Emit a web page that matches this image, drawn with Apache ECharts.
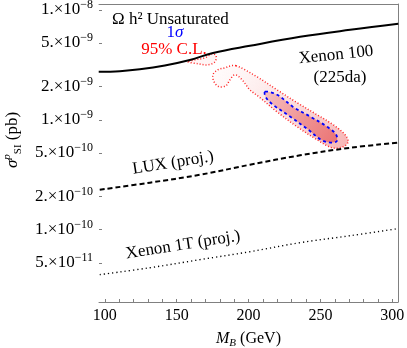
<!DOCTYPE html>
<html>
<head>
<meta charset="utf-8">
<script src="https://cdn.jsdelivr.net/npm/echarts@6/dist/echarts.min.js"></script>
<style>
  html, body { margin: 0; padding: 0; background: #fff; }
  #chart { width: 407px; height: 348px; }
</style>
</head>
<body>
<div id="chart"></div>
<script>
// Оси
const xTicks = [100, 110, 120, 130, 140, 150, 160, 170, 180, 190, 200, 210, 220, 230, 240, 250, 260, 270, 280, 290, 300];
const xLabels = [100, 150, 200, 250, 300];
const yLabels = [5e-11, 1e-10, 2e-10, 5e-10, 1e-9, 2e-9, 5e-9, 1e-8];

// Ограничение Xenon 100 (сплошная)
const xenon100 = [[95.8, 2.73e-9], [110.5, 2.77e-9], [124.4, 2.88e-9], [141.8, 3.12e-9], [159.2, 3.50e-9],
    [175.3, 4.05e-9], [201.0, 4.71e-9], [235.9, 5.68e-9], [270.7, 6.58e-9], [304.2, 7.46e-9]];
// LUX (пунктир)
const lux = [[96.5, 2.31e-10], [131.4, 2.68e-10], [166.2, 3.16e-10], [201.0, 3.90e-10],
    [235.9, 4.75e-10], [270.7, 5.56e-10], [303.5, 6.18e-10]];
// Xenon 1T (точки)
const xenon1t = [[96.5, 3.90e-11], [131.4, 4.51e-11], [166.2, 5.34e-11], [201.0, 6.31e-11],
    [235.9, 7.62e-11], [270.7, 8.82e-11], [303.5, 1.02e-10]];

// Контур 95% C.L.
const cl95 = [[191.3, 3.10e-9], [196.2, 2.91e-9], [205.9, 2.46e-9], [219.9, 1.87e-9], [233.8, 1.43e-9],
    [247.7, 1.11e-9], [258.9, 9.01e-10], [267.2, 7.31e-10], [269.3, 6.31e-10], [265.9, 5.68e-10],
    [258.2, 5.56e-10], [247.7, 6.58e-10], [233.8, 8.64e-10], [219.9, 1.18e-9], [208.0, 1.59e-9],
    [201.0, 1.87e-9], [195.5, 2.31e-9], [190.6, 2.57e-9], [187.1, 2.31e-9], [184.3, 2.04e-9],
    [179.4, 2.00e-9], [176.0, 2.22e-9], [175.3, 2.57e-9], [178.7, 2.85e-9], [183.6, 2.97e-9], [187.8, 3.10e-9]];
const cl95b = [[157.8, 3.37e-9], [164.8, 3.23e-9], [171.8, 3.16e-9], [176.7, 3.37e-9],
    [177.4, 3.82e-9], [174.6, 3.98e-9], [169.7, 3.66e-9], [162.7, 3.51e-9]];
// Контур 1σ
const sigma1 = [[211.5, 1.80e-9], [219.9, 1.69e-9], [231.0, 1.31e-9], [242.9, 1.07e-9], [254.7, 8.64e-10],
    [261.0, 7.31e-10], [261.0, 6.31e-10], [251.9, 6.44e-10], [240.8, 8.28e-10], [228.9, 1.07e-9],
    [217.1, 1.37e-9], [212.2, 1.59e-9]];

const serif = '"Liberation Serif", "DejaVu Serif", serif';
const gray = '#808080';

const chart = echarts.init(document.getElementById('chart'));

// Замкнутая область через оси графика
const region = (pts, style) => ({
    type: 'custom',
    coordinateSystem: 'cartesian2d',
    data: [[200, 1e-9]],
    z: 1,
    silent: true,
    renderItem: (params, api) => ({
        type: 'polygon',
        shape: { points: pts.map((p) => api.coord(p)), smooth: 0.35 },
        style: style
    })
});

const line = (data, type, width) => ({
    type: 'line',
    data: data,
    showSymbol: false,
    smooth: 0.4,
    z: 3,
    lineStyle: { color: '#000', width: width, type: type }
});

const option = {
    animation: false,
    grid: { left: 99, right: 9, top: 4, bottom: 46, outerBoundsMode: 'none' },
    xAxis: [
        {
            type: 'value', min: 96, max: 304, position: 'bottom',
            axisLine: { show: true, lineStyle: { color: gray, width: 1 } },
            axisTick: { show: true, inside: true, length: 3, customValues: xTicks, lineStyle: { color: gray } },
            axisLabel: { customValues: xLabels, color: '#000', fontFamily: serif, fontSize: 16, margin: 6 },
            splitLine: { show: false },
            name: '{i|M}{b|B} (GeV)',
            nameLocation: 'middle',
            nameGap: 27,
            nameTextStyle: {
                color: '#000', fontFamily: serif, fontSize: 16, lineHeight: 20,
                rich: {
                    i: { fontFamily: serif, fontSize: 16, fontStyle: 'italic', color: '#000', lineHeight: 20 },
                    b: { fontFamily: serif, fontSize: 11, fontStyle: 'italic', color: '#000', verticalAlign: 'bottom' }
                }
            }
        },
        {
            type: 'value', min: 96, max: 304, position: 'top',
            axisLine: { show: true, lineStyle: { color: gray, width: 1 } },
            axisTick: { show: false }, axisLabel: { show: false }, splitLine: { show: false }
        }
    ],
    yAxis: [
        {
            type: 'log', logBase: 10, min: 2.2e-11, max: 1.13e-8,
            axisLine: { show: false },
            axisTick: { show: true, inside: true, length: 3, customValues: yLabels, lineStyle: { color: gray } },
            axisLabel: {
                customValues: yLabels,
                margin: 6,
                formatter: (v) => {
                    const e = Math.floor(Math.log10(v) + 1e-6);
                    const m = Math.round(v / Math.pow(10, e));
                    return '{m|' + m + '.\u00d710}{e|\u2212' + (-e) + '}';
                },
                rich: {
                    m: { fontFamily: serif, fontSize: 17, color: '#000', lineHeight: 22 },
                    e: { fontFamily: serif, fontSize: 12, color: '#000', verticalAlign: 'top' }
                }
            },
            splitLine: { show: false }
        },
        {
            type: 'log', logBase: 10, min: 2.2e-11, max: 1.13e-8, position: 'right',
            axisLine: { show: true, lineStyle: { color: gray, width: 1 } },
            axisTick: { show: false }, axisLabel: { show: false }, splitLine: { show: false }
        }
    ],
    series: [
        region(cl95, {
            fill: {
                type: 'linear', x: 0, y: 0, x2: 1, y2: 1,
                colorStops: [
                    { offset: 0, color: 'rgba(255,240,240,0.2)' },
                    { offset: 0.5, color: 'rgba(250,205,205,0.6)' },
                    { offset: 1, color: 'rgba(245,170,170,0.9)' }
                ]
            },
            stroke: '#ff2020', lineWidth: 1.5, lineDash: [1, 2]
        }),
        region(cl95b, { fill: 'rgba(255,230,230,0.4)', stroke: '#ff2020', lineWidth: 1.5, lineDash: [1, 2] }),
        region(sigma1, {
            fill: {
                type: 'linear', x: 0, y: 0, x2: 1, y2: 1,
                colorStops: [
                    { offset: 0, color: '#f6c0c0' },
                    { offset: 0.6, color: '#ef8f8f' },
                    { offset: 1, color: '#ea7373' }
                ]
            },
            stroke: '#0000ff', lineWidth: 1.8, lineDash: [3, 3]
        }),
        line(xenon100, 'solid', 2),
        line(lux, [5, 3], 2),
        line(xenon1t, [1.2, 3], 1.4)
    ],
    graphic: [
        { type: 'text', x: 112, y: 20, style: { text: '\u03a9 h\u00b2 Unsaturated', font: '17px ' + serif, fill: '#000', align: 'left', verticalAlign: 'middle' } },
        { type: 'text', x: 175, y: 33, style: {
            text: '{a|1}{b|\u03c3}', align: 'center', verticalAlign: 'middle',
            rich: {
                a: { fontFamily: serif, fontSize: 17, fill: '#0000ff' },
                b: { fontFamily: serif, fontSize: 17, fontStyle: 'italic', fill: '#0000ff' }
            }
        } },
        { type: 'text', x: 174, y: 50, style: { text: '95% C.L.', font: '17px ' + serif, fill: '#ff0000', align: 'center', verticalAlign: 'middle' } },
        { type: 'text', x: 336, y: 55, rotation: 6 * Math.PI / 180, style: { text: 'Xenon 100', font: '17px ' + serif, fill: '#000', align: 'center', verticalAlign: 'middle' } },
        { type: 'text', x: 340, y: 78, style: { text: '(225da)', font: '17px ' + serif, fill: '#000', align: 'center', verticalAlign: 'middle' } },
        { type: 'text', x: 173, y: 163, rotation: 9 * Math.PI / 180, style: { text: 'LUX (proj.)', font: '17px ' + serif, fill: '#000', align: 'center', verticalAlign: 'middle' } },
        { type: 'text', x: 183, y: 245, rotation: 9 * Math.PI / 180, style: { text: 'Xenon 1T (proj.)', font: '17px ' + serif, fill: '#000', align: 'center', verticalAlign: 'middle' } },
        { type: 'text', x: 13, y: 140, rotation: Math.PI / 2, style: {
            text: '{s|\u03c3}{p|p}{b|SI} (pb)', align: 'center', verticalAlign: 'middle',
            rich: {
                s: { fontFamily: serif, fontSize: 17, fontStyle: 'italic', fill: '#000', lineHeight: 22 },
                p: { fontFamily: serif, fontSize: 11, fontStyle: 'italic', fill: '#000', verticalAlign: 'top' },
                b: { fontFamily: serif, fontSize: 11, fill: '#000', verticalAlign: 'bottom' }
            },
            fontFamily: serif, fontSize: 17, fill: '#000'
        } }
    ]
};

chart.setOption(option);
</script>
</body>
</html>
